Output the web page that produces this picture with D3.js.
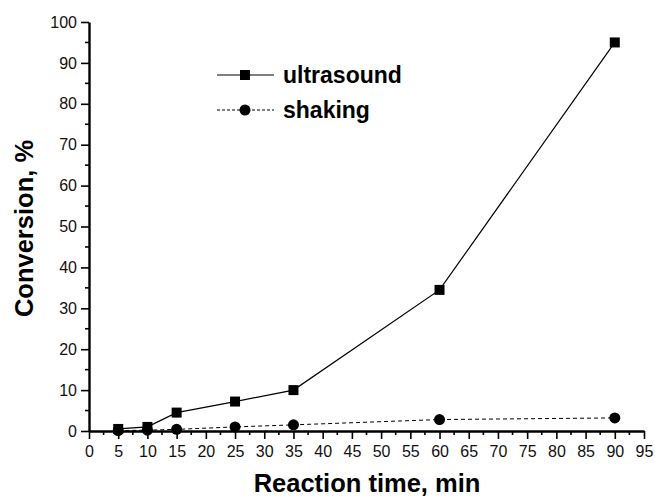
<!DOCTYPE html>
<html>
<head>
<meta charset="utf-8">
<script src="https://cdn.jsdelivr.net/npm/d3@7"></script>
<style>
  body { margin: 0; background: #fff; }
  svg { display: block; font-family: "Liberation Sans", Arial, sans-serif; }
</style>
</head>
<body>
<svg></svg>
<script>
// reaction times (min) and conversion (%)
const times = [5, 10, 15, 25, 35, 60, 90]
const ultrasound = [0.5, 1.0, 4.5, 7.2, 10.0, 34.5, 95.0]
const shaking = [0.1, 0.2, 0.4, 1.0, 1.5, 2.8, 3.2]
const seriesNames = ["ultrasound", "shaking"]
const xTicks = d3.range(0, 96, 5)
const yTicks = d3.range(0, 101, 10)

const width = 655
const height = 499
const margin = { top: 22, right: 11, bottom: 68, left: 89 }
const innerWidth = width - margin.left - margin.right
const innerHeight = height - margin.top - margin.bottom

const xScale = d3.scaleLinear().domain([0, 95]).range([0, innerWidth])
const yScale = d3.scaleLinear().domain([0, 100]).range([innerHeight, 0])

const svg = d3.select('svg')
    .attr('width', width)
    .attr('height', height)

const g = svg.append('g')
    .attr('transform', `translate(${margin.left}, ${margin.top})`)

// minor ticks: plain lines, no labels
const xMinorVals = d3.range(2.5, 95, 5)
const yMinorVals = d3.range(5, 100, 10)

g.selectAll('.x-minor')
    .data(xMinorVals)
    .enter()
    .append('line')
        .attr('class', 'x-minor')
        .attr('x1', d => xScale(d)).attr('x2', d => xScale(d))
        .attr('y1', innerHeight).attr('y2', innerHeight + 4)
        .attr('stroke', '#000').attr('stroke-width', 1.6)

g.selectAll('.y-minor')
    .data(yMinorVals)
    .enter()
    .append('line')
        .attr('class', 'y-minor')
        .attr('y1', d => yScale(d)).attr('y2', d => yScale(d))
        .attr('x1', 0).attr('x2', -4)
        .attr('stroke', '#000').attr('stroke-width', 1.6)

const xAxis = d3.axisBottom(xScale).tickValues(xTicks).tickSize(8).tickSizeOuter(0).tickPadding(7)
const yAxis = d3.axisLeft(yScale).tickValues(yTicks).tickSize(8).tickSizeOuter(0).tickPadding(4)

const xAxisG = g.append('g')
    .attr('transform', `translate(0, ${innerHeight})`)
    .call(xAxis)
const yAxisG = g.append('g').call(yAxis)

g.selectAll('.domain').attr('stroke-width', 2.4).attr('stroke', '#000')
g.selectAll('.tick line').attr('stroke-width', 1.6).attr('stroke', '#000')
g.selectAll('.tick text')
    .attr('font-size', 16)
    .attr('fill', '#111')
    .attr('font-family', '"Liberation Sans", Arial, sans-serif')

// axis titles
svg.append('text')
    .attr('x', 367)
    .attr('y', 492)
    .attr('text-anchor', 'middle')
    .attr('font-weight', 'bold')
    .attr('font-size', 25.5)
    .text('Reaction time, min')

svg.append('text')
    .attr('transform', `translate(33, ${margin.top + yScale(50) + 2}) rotate(-90)`)
    .attr('text-anchor', 'middle')
    .attr('font-weight', 'bold')
    .attr('font-size', 25.5)
    .text('Conversion, %')

const line = d3.line()
    .x(d => xScale(d[0]))
    .y(d => yScale(d[1]))

const usData = times.map((t, i) => [t, ultrasound[i]])
const shData = times.map((t, i) => [t, shaking[i]])

g.append('path')
    .datum(shData)
    .attr('d', line)
    .attr('fill', 'none')
    .attr('stroke', '#000')
    .attr('stroke-width', 1)
    .attr('stroke-dasharray', '4,3')

g.append('path')
    .datum(usData)
    .attr('d', line)
    .attr('fill', 'none')
    .attr('stroke', '#000')
    .attr('stroke-width', 1.2)

g.selectAll('.shake-point')
    .data(shData)
    .enter()
    .append('circle')
        .attr('class', 'shake-point')
        .attr('cx', d => xScale(d[0]))
        .attr('cy', d => yScale(d[1]))
        .attr('r', 5.5)
        .attr('fill', '#000')

const sq = 10
g.selectAll('.us-point')
    .data(usData)
    .enter()
    .append('rect')
        .attr('class', 'us-point')
        .attr('x', d => xScale(d[0]) - sq / 2)
        .attr('y', d => yScale(d[1]) - sq / 2)
        .attr('width', sq)
        .attr('height', sq)
        .attr('fill', '#000')

// legend
const legend = svg.append('g').attr('transform', 'translate(217, 75)')
seriesNames.forEach((name, i) => {
    const row = legend.append('g').attr('transform', `translate(0, ${i * 35})`)
    row.append('line')
        .attr('x1', 0).attr('x2', 57)
        .attr('stroke', '#000')
        .attr('stroke-width', i === 0 ? 1.2 : 1)
        .attr('stroke-dasharray', i === 0 ? null : '3,2')
    if (i === 0) {
        row.append('rect').attr('x', 28 - sq / 2).attr('y', -sq / 2)
            .attr('width', sq).attr('height', sq).attr('fill', '#000')
    } else {
        row.append('circle').attr('cx', 28).attr('r', 5.5).attr('fill', '#000')
    }
    row.append('text')
        .attr('x', 66)
        .attr('dy', '0.35em')
        .attr('font-weight', 'bold')
        .attr('font-size', 23)
        .text(name)
})
</script>
</body>
</html>
